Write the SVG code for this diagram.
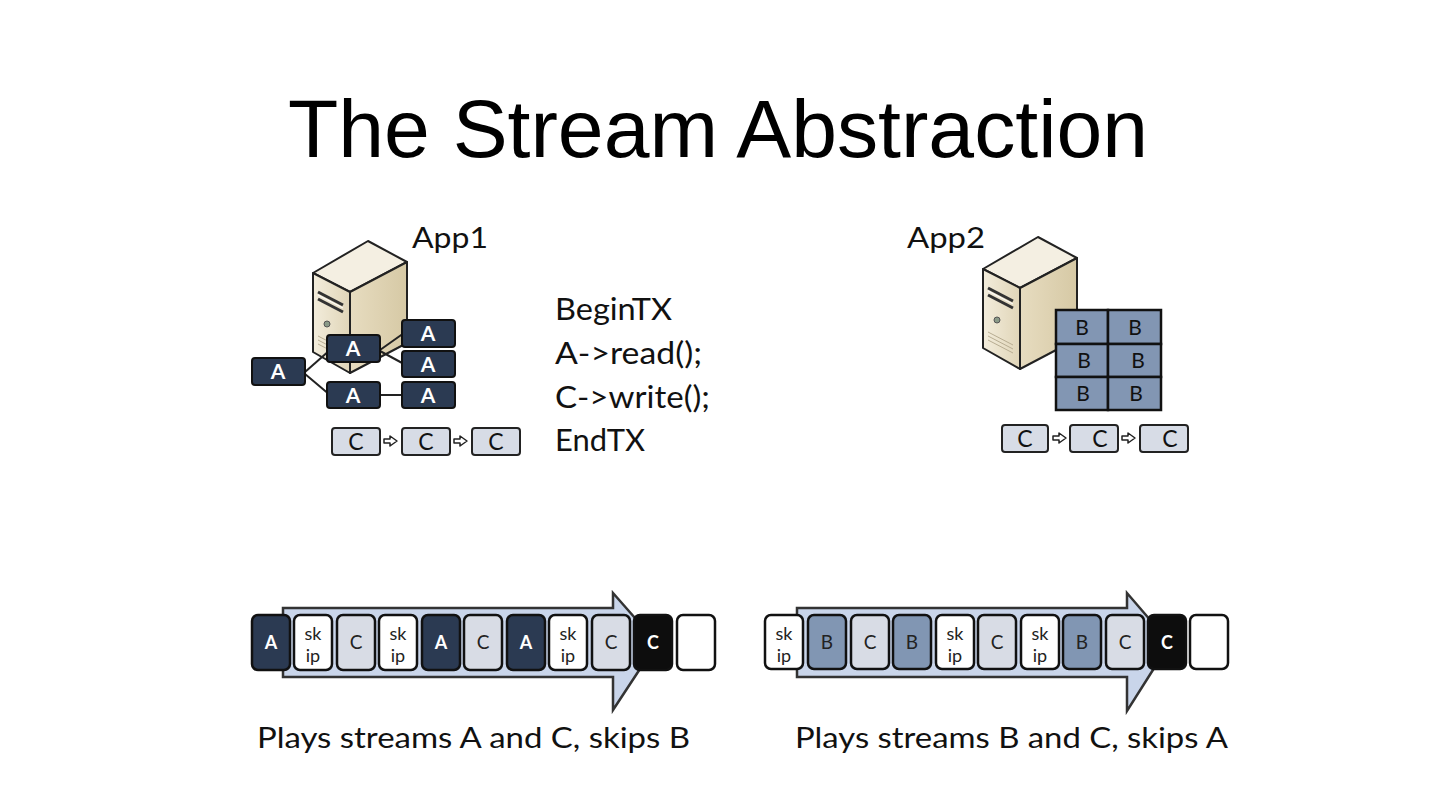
<svg xmlns="http://www.w3.org/2000/svg" width="1440" height="810" viewBox="0 0 1440 810">
<defs>
<style>
.t{font-family:Lato,"Open Sans","Liberation Sans",sans-serif;fill:#111}
.ttl{font-family:"Liberation Sans",Arial,sans-serif;fill:#000}
.ab{fill:#2b3a52;stroke:#111;stroke-width:2}
.at{font-family:Lato,"Liberation Sans",sans-serif;font-weight:bold;font-size:21px;fill:#fff;text-anchor:middle}
.cb{fill:#d7dce6;stroke:#222;stroke-width:2}
.ct{font-family:Lato,"Liberation Sans",sans-serif;font-size:23px;fill:#111;text-anchor:middle}
.bb{fill:#8296b3;stroke:#111;stroke-width:2.5}
.bt{font-family:Lato,"Liberation Sans",sans-serif;font-size:21px;fill:#111;text-anchor:middle}
.ln{stroke:#222;stroke-width:2;fill:none}
.sa{fill:#fff;stroke:#222;stroke-width:1.5;stroke-linejoin:round}
.arr{fill:#c9d5ea;stroke:#333;stroke-width:2.5;stroke-linejoin:miter}
.s{stroke:#111;stroke-width:2.5}
.sd{fill:#2b3a52}
.sw{fill:#fff}
.sc{fill:#d8dce5}
.sB{fill:#8196b3}
.sk{fill:#0d0d0d}
.st{font-family:Lato,"Liberation Sans",sans-serif;font-size:19px;text-anchor:middle;fill:#222}
.stw{font-family:Lato,"Liberation Sans",sans-serif;font-size:18px;font-weight:bold;text-anchor:middle;fill:#fff}
.stk{font-family:Lato,"Liberation Sans",sans-serif;font-size:18px;text-anchor:middle;fill:#222}
</style>
<linearGradient id="gl" x1="0" y1="0" x2="1" y2="0">
<stop offset="0" stop-color="#f3eddc"/><stop offset="1" stop-color="#e0d5b8"/>
</linearGradient>
<linearGradient id="gr" x1="0" y1="0" x2="1" y2="0">
<stop offset="0" stop-color="#e7dcc0"/><stop offset="1" stop-color="#d6c9a5"/>
</linearGradient>
<g id="server">
<polygon points="313,273 368,241 407,262 350,292" fill="#f4efe2" stroke="#222" stroke-width="2" stroke-linejoin="round"/>
<polygon points="313,273 350,292 350,373 313,352" fill="url(#gl)" stroke="#222" stroke-width="2" stroke-linejoin="round"/>
<polygon points="350,292 407,262 407,343 350,373" fill="url(#gr)" stroke="#222" stroke-width="2" stroke-linejoin="round"/>
<line x1="318" y1="292" x2="343" y2="305" stroke="#333" stroke-width="3"/>
<line x1="318" y1="299" x2="343" y2="312" stroke="#333" stroke-width="3"/>
<line x1="318" y1="295" x2="343" y2="308" stroke="#fff" stroke-width="1"/>
<circle cx="327" cy="324" r="3" fill="#8a9a88" stroke="#555" stroke-width="1"/>
<line x1="318" y1="336" x2="343" y2="349" stroke="#b8ad92" stroke-width="1"/>
<line x1="318" y1="340" x2="343" y2="353" stroke="#b8ad92" stroke-width="1"/>
<line x1="318" y1="344" x2="343" y2="357" stroke="#b8ad92" stroke-width="1"/>
</g>
</defs>
<rect width="1440" height="810" fill="#fff"/>
<text class="ttl" x="288" y="157" font-size="82" textLength="860" lengthAdjust="spacingAndGlyphs">The Stream Abstraction</text>

<g id="app1">
<use href="#server"/>
<text class="t" x="412" y="248" font-size="29" textLength="76" lengthAdjust="spacingAndGlyphs">App1</text>
</g>

<g id="connectors">
<line class="ln" x1="305" y1="372" x2="330" y2="350"/>
<line class="ln" x1="305" y1="374" x2="330" y2="395"/>
<line class="ln" x1="380" y1="350" x2="404" y2="333"/>
<line class="ln" x1="380" y1="351" x2="404" y2="364"/>
<line class="ln" x1="380" y1="395" x2="404" y2="395"/>
<polygon class="sa" points="384,439 390,439 390,436 397,441 390,446 390,443 384,443"/>
<polygon class="sa" points="454,439 460,439 460,436 467,441 460,446 460,443 454,443"/>
<polygon class="sa" points="1053,436 1059,436 1059,433 1066,438 1059,443 1059,440 1053,440"/>
<polygon class="sa" points="1122,436 1128,436 1128,433 1135,438 1128,443 1128,440 1122,440"/>
</g>

<g id="a-left"><rect class="ab" x="252" y="358" width="53" height="27" rx="3"/><text class="at" x="278" y="379">A</text></g>
<g id="a-mid"><rect class="ab" x="327" y="335" width="53" height="27" rx="3"/><text class="at" x="353" y="356">A</text></g>
<g id="a-bot"><rect class="ab" x="327" y="382" width="53" height="26" rx="3"/><text class="at" x="353" y="403">A</text></g>
<g id="a-r1"><rect class="ab" x="402" y="320" width="53" height="27" rx="3"/><text class="at" x="428" y="341">A</text></g>
<g id="a-r2"><rect class="ab" x="402" y="351" width="53" height="26" rx="3"/><text class="at" x="428" y="372">A</text></g>
<g id="a-r3"><rect class="ab" x="402" y="382" width="53" height="26" rx="3"/><text class="at" x="428" y="403">A</text></g>

<g id="c1-1"><rect class="cb" x="332" y="428" width="48" height="27" rx="3"/><text class="ct" x="356" y="450">C</text></g>
<g id="c1-2"><rect class="cb" x="402" y="428" width="48" height="27" rx="3"/><text class="ct" x="426" y="450">C</text></g>
<g id="c1-3"><rect class="cb" x="472" y="428" width="48" height="27" rx="3"/><text class="ct" x="496" y="450">C</text></g>

<g id="code">
<text class="t" x="555" y="320" font-size="30" textLength="117" lengthAdjust="spacingAndGlyphs">BeginTX</text>
<text class="t" x="555" y="364" font-size="30" textLength="147" lengthAdjust="spacingAndGlyphs">A-&gt;read();</text>
<text class="t" x="555" y="408" font-size="30" textLength="155" lengthAdjust="spacingAndGlyphs">C-&gt;write();</text>
<text class="t" x="555" y="451" font-size="30" textLength="90" lengthAdjust="spacingAndGlyphs">EndTX</text>
</g>

<g id="app2">
<use href="#server" transform="translate(670,-4)"/>
<text class="t" x="907" y="248" font-size="29" textLength="78" lengthAdjust="spacingAndGlyphs">App2</text>
</g>

<g id="b-grid">
<rect class="bb" x="1056" y="310" width="52" height="34"/>
<rect class="bb" x="1108" y="310" width="53" height="34"/>
<rect class="bb" x="1056" y="344" width="52" height="33"/>
<rect class="bb" x="1108" y="344" width="53" height="33"/>
<rect class="bb" x="1056" y="377" width="52" height="33"/>
<rect class="bb" x="1108" y="377" width="53" height="33"/>
<text class="bt" x="1082" y="335">B</text><text class="bt" x="1135" y="335">B</text>
<text class="bt" x="1084" y="368">B</text><text class="bt" x="1138" y="368">B</text>
<text class="bt" x="1083" y="401">B</text><text class="bt" x="1136" y="401">B</text>
</g>

<g id="c2-1"><rect class="cb" x="1002" y="425" width="46" height="27" rx="3"/><text class="ct" x="1025" y="447">C</text></g>
<g id="c2-2"><rect class="cb" x="1070" y="425" width="48" height="27" rx="3"/><text class="ct" x="1100" y="447">C</text></g>
<g id="c2-3"><rect class="cb" x="1140" y="425" width="48" height="27" rx="3"/><text class="ct" x="1170" y="447">C</text></g>

<g id="stream1">
<polygon class="arr" points="283,608 613,608 613,593 657,643 613,710 613,677 283,677"/>
<rect class="s sd" x="252" y="615" width="38" height="55" rx="6"/><text class="stw" x="271" y="649">A</text>
<rect class="s sw" x="294" y="615" width="38" height="55" rx="6"/><text class="stk" x="313" y="640">sk</text><text class="stk" x="313" y="662">ip</text>
<rect class="s sc" x="337" y="615" width="38" height="55" rx="6"/><text class="st" x="356" y="649">C</text>
<rect class="s sw" x="379" y="615" width="38" height="55" rx="6"/><text class="stk" x="398" y="640">sk</text><text class="stk" x="398" y="662">ip</text>
<rect class="s sd" x="422" y="615" width="38" height="55" rx="6"/><text class="stw" x="441" y="649">A</text>
<rect class="s sc" x="464" y="615" width="38" height="55" rx="6"/><text class="st" x="483" y="649">C</text>
<rect class="s sd" x="507" y="615" width="38" height="55" rx="6"/><text class="stw" x="526" y="649">A</text>
<rect class="s sw" x="549" y="615" width="38" height="55" rx="6"/><text class="stk" x="568" y="640">sk</text><text class="stk" x="568" y="662">ip</text>
<rect class="s sc" x="592" y="615" width="38" height="55" rx="6"/><text class="st" x="611" y="649">C</text>
<rect class="s sk" x="634" y="615" width="38" height="55" rx="6"/><text class="stw" x="653" y="649">C</text>
<rect class="s sw" x="677" y="615" width="38" height="55" rx="6"/>
</g>
<text class="t" x="257" y="748" font-size="29" textLength="433" lengthAdjust="spacingAndGlyphs">Plays streams A and C, skips B</text>

<g id="stream2">
<polygon class="arr" points="797,608 1127,608 1127,593 1170,643 1127,711 1127,677 797,677"/>
<rect class="s sw" x="765" y="615" width="38" height="54" rx="6"/><text class="stk" x="784" y="640">sk</text><text class="stk" x="784" y="662">ip</text>
<rect class="s sB" x="808" y="615" width="38" height="54" rx="6"/><text class="st" x="827" y="649">B</text>
<rect class="s sc" x="851" y="615" width="38" height="54" rx="6"/><text class="st" x="870" y="649">C</text>
<rect class="s sB" x="893" y="615" width="38" height="54" rx="6"/><text class="st" x="912" y="649">B</text>
<rect class="s sw" x="936" y="615" width="38" height="54" rx="6"/><text class="stk" x="955" y="640">sk</text><text class="stk" x="955" y="662">ip</text>
<rect class="s sc" x="978" y="615" width="38" height="54" rx="6"/><text class="st" x="997" y="649">C</text>
<rect class="s sw" x="1021" y="615" width="38" height="54" rx="6"/><text class="stk" x="1040" y="640">sk</text><text class="stk" x="1040" y="662">ip</text>
<rect class="s sB" x="1063" y="615" width="38" height="54" rx="6"/><text class="st" x="1082" y="649">B</text>
<rect class="s sc" x="1106" y="615" width="38" height="54" rx="6"/><text class="st" x="1125" y="649">C</text>
<rect class="s sk" x="1148" y="615" width="38" height="54" rx="6"/><text class="stw" x="1167" y="649">C</text>
<rect class="s sw" x="1190" y="615" width="38" height="54" rx="6"/>
</g>
<text class="t" x="795" y="748" font-size="29" textLength="433" lengthAdjust="spacingAndGlyphs">Plays streams B and C, skips A</text>
</svg>
